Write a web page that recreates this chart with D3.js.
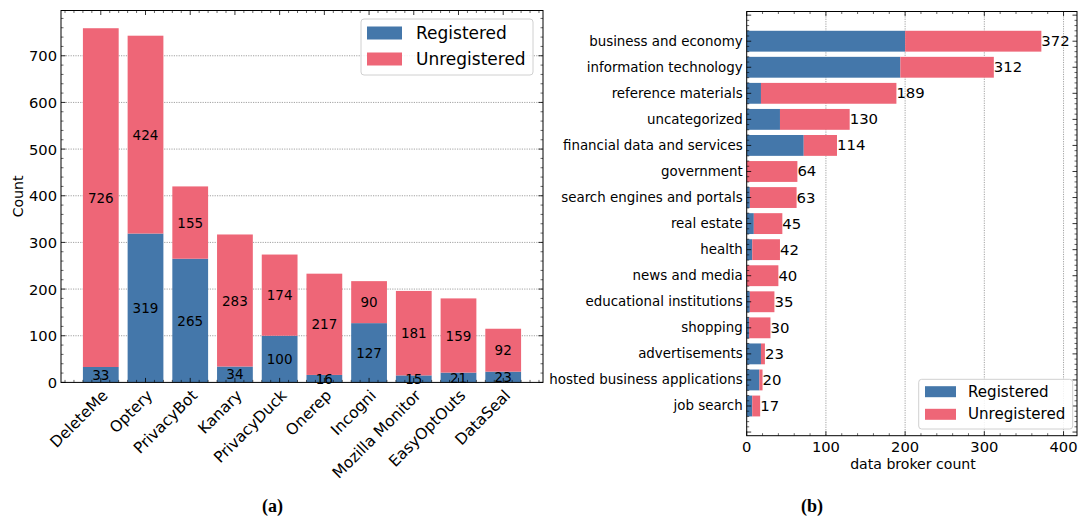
<!DOCTYPE html>
<html><head><meta charset="utf-8">
<script src="https://cdn.jsdelivr.net/npm/d3@7"></script>
<style>body{margin:0;background:#fff}svg{display:block}text{font-family:"DejaVu Sans",sans-serif;fill:#000}</style>
</head><body><svg id="c" width="1080" height="519"></svg>
<script>
// ---- Data (a)
const services = ["DeleteMe","Optery","PrivacyBot","Kanary","PrivacyDuck","Onerep","Incogni","Mozilla Monitor","EasyOptOuts","DataSeal"];
const servRegistered = [33,319,265,34,100,16,127,15,21,23];
const servUnregistered = [726,424,155,283,174,217,90,181,159,92];
const countTicks = [0,100,200,300,400,500,600,700];
// ---- Data (b)
const categories = ["business and economy","information technology","reference materials","uncategorized","financial data and services","government","search engines and portals","real estate","health","news and media","educational institutions","shopping","advertisements","hosted business applications","job search"];
const catTotal = [372,312,189,130,114,64,63,45,42,40,35,30,23,20,17];
const catRegistered = [200,194,18,42,72,0,4,9,7,0,4,3,18,16,7];
const brokerTicks = [0,100,200,300,400];
const seriesNames = ["Registered","Unregistered"];
const colors = ["#4477AA","#EE6677"];

const svg = d3.select("#c");
const gridStyle = s => s.attr("stroke","#8a8a8a").attr("stroke-width",0.8).attr("stroke-dasharray","1.2,1.2");

// ================= Panel (a) =================
(function(){
  const L=61, R=543, T=10.5, B=382.4;
  const x = d3.scaleBand().domain(services).range([L,R]).paddingInner(0.2).paddingOuter(0.49);
  const y = d3.scaleLinear().domain([0,797]).range([B,T]);
  const g = svg.append("g");
  countTicks.filter(v=>v>0).forEach(v=>{
    g.append("line").attr("x1",L).attr("x2",R).attr("y1",y(v)).attr("y2",y(v)).call(gridStyle);
  });
  services.forEach((s,i)=>{
    const r=servRegistered[i], u=servUnregistered[i];
    g.append("rect").attr("x",x(s)).attr("width",x.bandwidth()).attr("y",y(r)).attr("height",y(0)-y(r)).attr("fill",colors[0]);
    g.append("rect").attr("x",x(s)).attr("width",x.bandwidth()).attr("y",y(r+u)).attr("height",y(r)-y(r+u)).attr("fill",colors[1]);
    const cx = x(s)+x.bandwidth()/2;
    g.append("text").attr("x",cx).attr("y",y(r/2)).attr("text-anchor","middle").attr("dominant-baseline","central").attr("font-size",13.5).text(r);
    g.append("text").attr("x",cx).attr("y",y(r+u/2)).attr("text-anchor","middle").attr("dominant-baseline","central").attr("font-size",13.5).text(u);
    g.append("text").attr("transform",`translate(${cx+8},${B+14}) rotate(-45)`).attr("text-anchor","end").attr("font-size",15.5).text(s);
  });
  g.append("rect").attr("x",L).attr("y",T).attr("width",R-L).attr("height",B-T).attr("fill","none").attr("stroke","#000").attr("stroke-width",1);
  const yMinor = d3.range(0,797,20).filter(v=>v%100!==0);
  countTicks.forEach(v=>{
    g.append("line").attr("x1",L).attr("x2",L+4.5).attr("y1",y(v)).attr("y2",y(v)).attr("stroke","#000").attr("stroke-width",0.8);
    g.append("line").attr("x1",R).attr("x2",R-4.5).attr("y1",y(v)).attr("y2",y(v)).attr("stroke","#000").attr("stroke-width",0.8);
    g.append("text").attr("x",L-4).attr("y",y(v)).attr("text-anchor","end").attr("dominant-baseline","central").attr("font-size",14.7).text(v);
  });
  yMinor.forEach(v=>{
    g.append("line").attr("x1",L).attr("x2",L+2.5).attr("y1",y(v)).attr("y2",y(v)).attr("stroke","#000").attr("stroke-width",0.6);
    g.append("line").attr("x1",R).attr("x2",R-2.5).attr("y1",y(v)).attr("y2",y(v)).attr("stroke","#000").attr("stroke-width",0.6);
  });
  const step = x.step();
  const xi = i => x(services[0]) + x.bandwidth()/2 + i*step;
  d3.range(-4,50).forEach(k=>{
    const i=k/5, px=xi(i);
    if(px<=L+0.5||px>=R-0.5) return;
    const major = k%5===0;
    const len = major?4.5:2.5;
    g.append("line").attr("x1",px).attr("x2",px).attr("y1",B).attr("y2",B-len).attr("stroke","#000").attr("stroke-width",major?0.8:0.6);
    g.append("line").attr("x1",px).attr("x2",px).attr("y1",T).attr("y2",T+len).attr("stroke","#000").attr("stroke-width",major?0.8:0.6);
  });
  g.append("text").attr("transform",`translate(17.5,${(T+B)/2}) rotate(-90)`).attr("text-anchor","middle").attr("dominant-baseline","central").attr("font-size",14.1).text("Count");
  const lg = g.append("g");
  lg.append("rect").attr("x",361).attr("y",19).attr("width",172).attr("height",56).attr("rx",3).attr("fill","#fff").attr("fill-opacity",0.85).attr("stroke","#d0d0d0");
  seriesNames.forEach((n,i)=>{
    const cy = 33 + i*26;
    lg.append("rect").attr("x",367).attr("y",cy-6.5).attr("width",35).attr("height",13).attr("fill",colors[i]);
    lg.append("text").attr("x",416).attr("y",cy).attr("dominant-baseline","central").attr("font-size",17).text(n);
  });
  svg.append("text").attr("x",272.5).attr("y",506).attr("text-anchor","middle").attr("dominant-baseline","central").attr("font-weight","bold").attr("font-size",18).style("font-family","'Liberation Serif',serif").text("(a)");
})();

// ================= Panel (b) =================
(function(){
  const L=746.7, R=1077, T=11.5, B=435.7;
  const x = d3.scaleLinear().domain([0,417]).range([L,R]);
  const y = d3.scaleBand().domain(categories).range([T,B]).paddingInner(0.2).paddingOuter(0.74);
  const g = svg.append("g");
  brokerTicks.filter(v=>v>0).forEach(v=>{
    g.append("line").attr("x1",x(v)).attr("x2",x(v)).attr("y1",T).attr("y2",B).call(gridStyle);
  });
  categories.forEach((c,i)=>{
    const r=catRegistered[i], t=catTotal[i];
    g.append("rect").attr("x",x(0)).attr("width",x(r)-x(0)).attr("y",y(c)).attr("height",y.bandwidth()).attr("fill",colors[0]);
    g.append("rect").attr("x",x(r)).attr("width",x(t)-x(r)).attr("y",y(c)).attr("height",y.bandwidth()).attr("fill",colors[1]);
    const cy = y(c)+y.bandwidth()/2;
    g.append("text").attr("x",x(t)).attr("y",cy).attr("dominant-baseline","central").attr("font-size",14.9).text(t);
    g.append("text").attr("x",L-4).attr("y",cy).attr("text-anchor","end").attr("dominant-baseline","central").attr("font-size",13.4).text(c);
  });
  g.append("rect").attr("x",L).attr("y",T).attr("width",R-L).attr("height",B-T).attr("fill","none").attr("stroke","#000").attr("stroke-width",1);
  d3.range(0,420,20).forEach(v=>{
    const major = v%100===0, len = major?4.5:2.5, px=x(v);
    if(px>=R-0.5) return;
    g.append("line").attr("x1",px).attr("x2",px).attr("y1",B).attr("y2",B-len).attr("stroke","#000").attr("stroke-width",major?0.8:0.6);
    g.append("line").attr("x1",px).attr("x2",px).attr("y1",T).attr("y2",T+len).attr("stroke","#000").attr("stroke-width",major?0.8:0.6);
  });
  brokerTicks.forEach(v=>{
    g.append("text").attr("x",x(v)).attr("y",B+11).attr("text-anchor","middle").attr("dominant-baseline","central").attr("font-size",14.7).text(v);
  });
  const step=y.step(), y0=y(categories[0])+y.bandwidth()/2;
  d3.range(-5,76).forEach(k=>{
    const py = y0 + (k/5)*step;
    if(py<=T+0.5||py>=B-0.5) return;
    const major=k%5===0, len=major?4.5:2.5;
    g.append("line").attr("x1",L).attr("x2",L+len).attr("y1",py).attr("y2",py).attr("stroke","#000").attr("stroke-width",major?0.8:0.6);
    g.append("line").attr("x1",R).attr("x2",R-len).attr("y1",py).attr("y2",py).attr("stroke","#000").attr("stroke-width",major?0.8:0.6);
  });
  g.append("text").attr("x",913).attr("y",464).attr("text-anchor","middle").attr("dominant-baseline","central").attr("font-size",14.1).text("data broker count");
  const lg = g.append("g");
  lg.append("rect").attr("x",918.7).attr("y",379.3).attr("width",154).attr("height",49.7).attr("rx",3).attr("fill","#fff").attr("fill-opacity",0.85).attr("stroke","#d0d0d0");
  seriesNames.forEach((n,i)=>{
    const cy = 391.7 + i*22.6;
    lg.append("rect").attr("x",925).attr("y",cy-5.5).attr("width",31).attr("height",11).attr("fill",colors[i]);
    lg.append("text").attr("x",968).attr("y",cy).attr("dominant-baseline","central").attr("font-size",15.1).text(n);
  });
  svg.append("text").attr("x",812).attr("y",506).attr("text-anchor","middle").attr("dominant-baseline","central").attr("font-weight","bold").attr("font-size",18).style("font-family","'Liberation Serif',serif").text("(b)");
})();
</script></body></html>
